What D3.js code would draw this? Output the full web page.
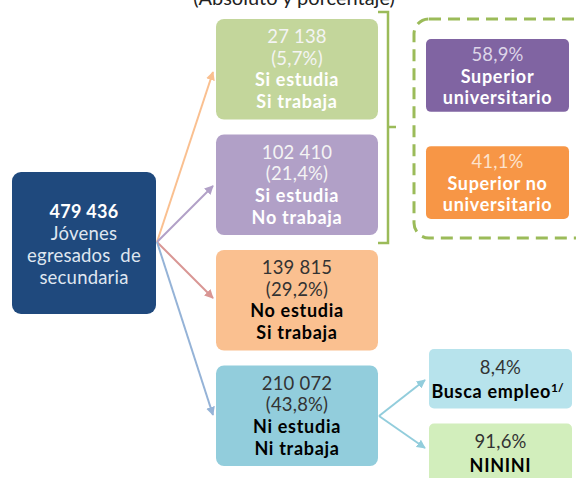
<!DOCTYPE html>
<html><head><meta charset="utf-8">
<script src="https://cdn.jsdelivr.net/npm/d3@7"></script>
<style>body{margin:0;background:#fff}svg{display:block}text{font-family:Lato,"Open Sans",sans-serif}</style>
</head><body><svg id="c" width="576" height="478"></svg>
<script>
const title = "(Absoluto y porcentaje)";
const totalValue = 479436;
const totalLabel = ["Jóvenes", "egresados  de", "secundaria"];
const groupKeys = ["ss", "sn", "ns", "nn"];
const groupLines1 = ["Si estudia", "Si estudia", "No estudia", "Ni estudia"];
const groupLines2 = ["Si trabaja", "No trabaja", "Si trabaja", "Ni trabaja"];
const groupCounts = [27138, 102410, 139815, 210072];
const groupPercents = [5.7, 21.4, 29.2, 43.8];
const groupFills = ["#c3d69b", "#b1a0c7", "#fac090", "#92cddc"];
const groupArrowColors = ["#fac090", "#b1a0c7", "#d99694", "#95b3d7"];
const supKeys = ["univ", "nouniv"];
const supLabels = [["Superior", "universitario"], ["Superior no", "universitario"]];
const supPercents = [58.9, 41.1];
const supFills = ["#8064a2", "#f79646"];
const niniKeys = ["busca", "ninini"];
const niniLabels = ["Busca empleo", "NININI"];
const niniPercents = [8.4, 91.6];
const niniFills = ["#b7e3ec", "#d2eebc"];

const loc = d3.formatLocale({decimal: ",", thousands: " ", grouping: [3], currency: ["", ""]});
const fInt = loc.format(",d");
const fPct = loc.format(".1f");

const FS = 18.5;
const svg = d3.select("#c");
const defs = svg.append("defs");
function marker(id, color) {
  defs.append("marker").attr("id", id).attr("viewBox", "0 0 10 10")
    .attr("refX", 9).attr("refY", 5).attr("markerWidth", 9).attr("markerHeight", 9)
    .attr("markerUnits", "userSpaceOnUse").attr("orient", "auto")
    .append("path").attr("d", "M0,0L10,5L0,10z").attr("fill", color);
}
function txt(x, y, t, bold, fill) {
  return svg.append("text").attr("x", x).attr("y", y).attr("text-anchor", "middle")
    .attr("font-size", bold ? 18 : FS).attr("font-weight", bold ? "bold" : "normal")
    .attr("letter-spacing", bold ? 0.7 : 0.2)
    .attr("fill", fill).style("white-space", "pre").text(t);
}

// Title
svg.append("text").attr("x", 294).attr("y", 5).attr("text-anchor", "middle")
  .attr("font-size", 20).attr("fill", "#222").text(title);

// Scales
const yGroups = d3.scaleBand().domain(groupKeys).range([19, 466]).paddingInner(0.13);
const ySup = d3.scaleBand().domain(supKeys).range([39, 219]).paddingInner(0.32);
const yNini = d3.scaleBand().domain(niniKeys).range([349, 483]).paddingInner(0.2);
const colX = {total: 12, group: 216, right: 426, nini: 429};
const groupW = 162;

// Total box
const tb = {x: colX.total, y: 172, w: 144, h: 142};
svg.append("rect").attr("x", tb.x).attr("y", tb.y).attr("width", tb.w).attr("height", tb.h)
  .attr("rx", 9).attr("fill", "#1f497d");
const tcx = tb.x + tb.w / 2;
txt(tcx, 218, fInt(totalValue), true, "#fff").attr("letter-spacing", 0.3);
totalLabel.forEach((t, i) => txt(tcx, 240 + i * 22, t, false, "#dfe6f0"));

// Arrows from total box
const origin = [157, 242];
const groupEnds = [72, 186, 298, 415];
groupKeys.forEach((k, i) => {
  marker("m" + i, groupArrowColors[i]);
  svg.append("line").attr("x1", origin[0]).attr("y1", origin[1])
    .attr("x2", colX.group - 3).attr("y2", groupEnds[i])
    .attr("stroke", groupArrowColors[i]).attr("stroke-width", 2)
    .attr("marker-end", "url(#m" + i + ")");
});

// Group boxes
groupKeys.forEach((k, i) => {
  const y = yGroups(k), h = yGroups.bandwidth();
  svg.append("rect").attr("x", colX.group).attr("y", y).attr("width", groupW).attr("height", h)
    .attr("rx", 8).attr("fill", groupFills[i]);
  const cx = colX.group + groupW / 2;
  const dark = i >= 2;
  const lines = [fInt(groupCounts[i]), "(" + fPct(groupPercents[i]) + "%)", groupLines1[i], groupLines2[i]];
  lines.forEach((t, j) => {
    txt(cx, y + 24 + j * 21.7, t, j >= 2,
      dark ? (j >= 2 ? "#000" : "#333") : (j >= 2 ? "#fff" : "#f4f4f4"));
  });
});

// Bracket
const bx = 388;
svg.append("path")
  .attr("d", `M${bx - 10},${12}H${bx}V${243}H${bx - 10}M${bx},${127}H${bx + 8}`)
  .attr("fill", "none").attr("stroke", "#9bbb59").attr("stroke-width", 2.5);

// Dashed container
svg.append("rect").attr("x", 414).attr("y", 19).attr("width", 190).attr("height", 219)
  .attr("rx", 15).attr("fill", "none").attr("stroke", "#9bbb59").attr("stroke-width", 3)
  .attr("stroke-dasharray", "12,7");

// Superior boxes
supKeys.forEach((k, i) => {
  const y = ySup(k), h = ySup.bandwidth();
  svg.append("rect").attr("x", colX.right).attr("y", y).attr("width", 143).attr("height", h)
    .attr("rx", 5).attr("fill", supFills[i]);
  const cx = colX.right + 143 / 2;
  txt(cx, y + 22, fPct(supPercents[i]) + "%", false, i === 0 ? "#ddd5e8" : "#fde2cc");
  supLabels[i].forEach((t, j) => txt(cx, y + 44 + j * 21, t, true, "#fff"));
});

// Arrows to NINI sub-boxes
const o2 = [379, 416];
const niniEnds = [380, 448];
niniKeys.forEach((k, i) => {
  marker("n" + i, "#92cddc");
  svg.append("line").attr("x1", o2[0]).attr("y1", o2[1]).attr("x2", 425).attr("y2", niniEnds[i])
    .attr("stroke", "#92cddc").attr("stroke-width", 2).attr("marker-end", "url(#n" + i + ")");
});

// NINI boxes
niniKeys.forEach((k, i) => {
  const y = yNini(k), h = yNini.bandwidth();
  svg.append("rect").attr("x", colX.nini).attr("y", y).attr("width", 143).attr("height", h)
    .attr("rx", 5).attr("fill", niniFills[i]);
  const cx = colX.nini + 143 / 2;
  txt(cx, y + 25, fPct(niniPercents[i]) + "%", false, "#333");
  const t = txt(cx + (i === 0 ? -3 : 0), y + 49, niniLabels[i], true, "#000");
  if (i === 0) {
    t.append("tspan").attr("dy", -6).attr("font-size", 12).attr("letter-spacing", 0).text("1/");
  }
});
</script></body></html>
